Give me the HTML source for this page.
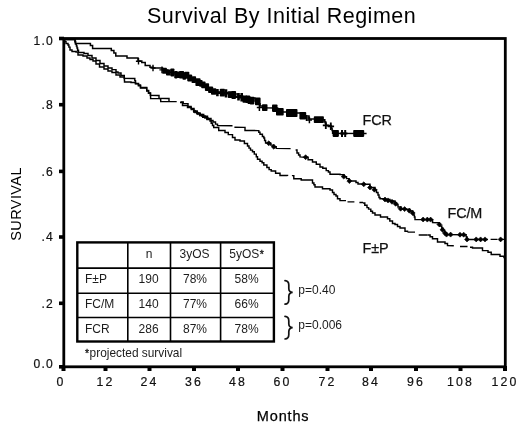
<!DOCTYPE html>
<html><head><meta charset="utf-8"><title>Survival By Initial Regimen</title>
<style>
html,body{margin:0;padding:0;background:#fff;}
body{width:520px;height:432px;overflow:hidden;}
svg{display:block;}
text{font-family:"Liberation Sans",sans-serif;fill:#111;}
.tk{font-size:12.3px;letter-spacing:2.2px;stroke:#111;stroke-width:0.2px;}
.tb{font-size:12px;fill:#1c1c1c;}
.lb{font-size:14.4px;letter-spacing:-0.2px;fill:#111;stroke:#111;stroke-width:0.25px;}
.pv{font-size:12px;fill:#1c1c1c;}
</style></head><body>
<svg width="520" height="432" viewBox="0 0 520 432" style="filter:grayscale(1) blur(0.3px)">
<rect width="520" height="432" fill="#fff"/>
<text x="147" y="22.5" style="font-size:21.5px;letter-spacing:0.5px;fill:#000">Survival By Initial Regimen</text>
<!-- frame -->
<rect x="63.8" y="38.5" width="441.5" height="328.3" fill="none" stroke="#000" stroke-width="2.8"/>
<rect x="61.5" y="366" width="4" height="5" fill="#000"/><rect x="103.5" y="366" width="4" height="5" fill="#000"/><rect x="147.5" y="366" width="4" height="5" fill="#000"/><rect x="192" y="366" width="4" height="5" fill="#000"/><rect x="236" y="366" width="4" height="5" fill="#000"/><rect x="280.5" y="366" width="4" height="5" fill="#000"/><rect x="325.5" y="366" width="4" height="5" fill="#000"/><rect x="369" y="366" width="4" height="5" fill="#000"/><rect x="414" y="366" width="4" height="5" fill="#000"/><rect x="458.5" y="366" width="4" height="5" fill="#000"/><rect x="503" y="366" width="4" height="5" fill="#000"/><rect x="59" y="36.7" width="5" height="3.6" fill="#000"/><rect x="59" y="102.9" width="5" height="3.6" fill="#000"/><rect x="59" y="169.6" width="5" height="3.6" fill="#000"/><rect x="59" y="235.2" width="5" height="3.6" fill="#000"/><rect x="59" y="301.5" width="5" height="3.6" fill="#000"/><rect x="59" y="365.0" width="5" height="3.6" fill="#000"/>
<text x="60.9" y="385.7" text-anchor="middle" class="tk">0</text><text x="105.5" y="385.7" text-anchor="middle" class="tk">12</text><text x="149.5" y="385.7" text-anchor="middle" class="tk">24</text><text x="194" y="385.7" text-anchor="middle" class="tk">36</text><text x="238" y="385.7" text-anchor="middle" class="tk">48</text><text x="282.5" y="385.7" text-anchor="middle" class="tk">60</text><text x="327.5" y="385.7" text-anchor="middle" class="tk">72</text><text x="371" y="385.7" text-anchor="middle" class="tk">84</text><text x="416" y="385.7" text-anchor="middle" class="tk">96</text><text x="460.5" y="385.7" text-anchor="middle" class="tk">108</text><text x="505" y="385.7" text-anchor="middle" class="tk">120</text><text x="54.1" y="45" text-anchor="end" class="tk" style="letter-spacing:1.3px;font-size:12.1px">1.0</text><text x="54.1" y="109" text-anchor="end" class="tk" style="letter-spacing:1.3px;font-size:12.1px">.8</text><text x="54.1" y="176" text-anchor="end" class="tk" style="letter-spacing:1.3px;font-size:12.1px">.6</text><text x="54.1" y="241.3" text-anchor="end" class="tk" style="letter-spacing:1.3px;font-size:12.1px">.4</text><text x="54.1" y="308.4" text-anchor="end" class="tk" style="letter-spacing:1.3px;font-size:12.1px">.2</text><text x="54.1" y="367.6" text-anchor="end" class="tk" style="letter-spacing:1.3px;font-size:12.1px">0.0</text>
<text transform="translate(21 203.9) rotate(-90)" text-anchor="middle" style="font-size:14.5px;letter-spacing:0.4px;fill:#000">SURVIVAL</text>
<text x="256.8" y="421.4" style="font-size:14.5px;letter-spacing:0.85px;fill:#000;stroke:#000;stroke-width:0.25px">Months</text>
<!-- curves -->
<g fill="none" stroke="#000" stroke-linejoin="miter">
<path d="M64.0 40.0 L64.8 40.0 L64.8 41.6 L66.0 41.6 L66.0 43.5 L68.0 43.5 L68.0 45.0 L68.9 45.0 L68.9 47.1 L70.0 47.1 L70.0 50.0 L72.0 50.0 L72.0 51.5 L76.0 51.5 L76.0 52.0 L78.0 52.0 L78.0 55.0 L83.0 55.0 L83.0 56.0 L87.0 56.0 L87.0 58.0 L90.0 58.0 L90.0 59.5 L93.0 59.5 L93.0 61.0 L96.0 61.0 L96.0 64.0 L99.5 64.0 L99.5 67.0 L104.0 67.0 L104.0 69.0 L108.0 69.0 L108.0 71.0 L112.0 71.0 L112.0 72.5 L116.0 72.5 L116.0 75.0 L120.0 75.0 L120.0 77.0 L124.3 77.0 L124.3 78.5 L124.4 78.5 L124.4 80.1 L124.5 80.1 L124.5 82.0 L131.0 82.0 L131.0 82.5 L135.5 82.5 L135.5 83.8 L138.4 83.8 L138.4 85.8 L140.5 85.8 L140.5 88.0 L146.7 88.0 L146.7 91.0 L148.5 91.0 L148.5 93.2 L150.4 93.2 L150.4 95.5 L150.6 95.5 L150.6 98.5 L159.0 98.6 L160.5 98.6 L160.5 99.0 L160.7 99.0 L160.7 101.6 L176.7 101.6 M180.0 102.5 L182.5 102.5 L182.5 105.4 L187.5 105.4 L187.5 107.5 L191.3 107.5 L191.3 109.4 L193.7 109.4 L193.7 112.0 L197.0 112.0 L197.0 113.7 L200.0 113.7 L200.0 115.5 L202.7 115.5 L202.7 117.3 L207.0 117.3 L207.0 119.5 L210.0 119.5 L210.0 121.0 L211.2 121.0 L211.2 123.2 L212.5 123.2 L212.5 125.4 L213.7 125.4 L213.7 127.5 L218.7 127.5 L218.7 130.4 L225.0 130.4 L225.0 132.5 L228.3 132.5 L228.3 134.6 L232.5 134.6 L232.5 137.5 L235.0 137.5 L235.0 139.9 L240.0 139.9 L240.0 141.0 L244.4 141.0 L244.4 143.5 L247.5 143.5 L247.5 146.0 L249.0 146.0 L249.0 148.1 L250.5 148.1 L250.5 150.1 L252.5 150.1 L252.5 151.8 L254.3 151.8 L254.3 154.1 L256.3 154.1 L256.3 156.8 L257.5 156.8 L257.5 159.2 L260.0 159.2 L260.0 161.3 L262.1 161.3 L262.1 162.8 L263.8 162.8 L263.8 164.9 L266.9 164.9 L266.9 167.4 L269.1 167.4 L269.1 169.6 L271.2 169.6 L271.2 171.0 L275.6 171.0 L275.6 173.3 L280.0 173.3 L280.0 175.5 L287.5 175.5 L287.5 176.0 M291.9 175.6 L293.8 175.6 L293.8 178.8 L301.2 178.8 L301.2 180.0 L312.5 180.0 L312.5 183.0 L313.9 183.0 L313.9 184.7 L315.0 184.7 L315.0 186.9 L322.5 186.9 L322.5 188.8 L330.0 188.8 L330.0 190.0 L332.5 190.0 L332.5 192.5 L334.0 192.5 L334.0 194.5 L336.0 194.5 L336.0 196.0 L337.5 196.0 L337.5 198.8 L340.0 198.8 L340.0 200.5 L346.0 200.6 M363.0 203.0 L364.8 203.0 L364.8 205.3 L367.0 205.3 L367.0 207.6 L368.6 207.6 L368.6 209.1 L370.8 209.1 L370.8 211.2 L372.5 211.2 L372.5 213.0 L375.0 213.0 L375.0 215.0 L380.5 215.0 L380.5 217.0 L387.5 217.0 L387.5 218.8 L389.8 218.8 L389.8 221.0 L392.5 221.0 L392.5 223.5 L395.0 223.5 L395.0 224.4 L397.5 224.4 L397.5 226.4 L400.0 226.4 L400.0 228.0 L405.0 228.0 L405.0 231.2 L407.5 231.2 L407.5 232.1 M427.5 235.0 L430.1 235.0 L430.1 236.8 L432.5 236.8 L432.5 238.8 L437.5 238.8 L437.5 241.9 L445.0 241.9 L445.0 243.4 L447.5 243.4 L447.5 245.6 L453.8 245.8 M470.0 247.2 L472.5 247.2 L472.5 248.0 L482.5 248.0 L482.5 250.6 L488.0 250.6 L488.0 252.2 L491.2 252.2 L491.2 254.4 L500.0 254.4 L500.0 256.2 L504.0 256.2 L504.0 258.2" stroke-width="1.45"/>
<path d="M64.0 39.5 L74.5 39.6 L75.0 39.6 L75.0 41.3 L75.5 41.3 L75.5 44.0 L76.4 44.0 L76.4 46.0 L77.0 46.0 L77.0 48.0 L77.6 48.0 L77.6 50.2 L78.5 50.2 L78.5 52.5 L84.0 52.5 L84.0 53.5 L88.0 53.5 L88.0 55.5 L92.0 55.5 L92.0 58.0 L96.0 58.0 L96.0 60.5 L100.0 60.5 L100.0 63.5 L104.0 63.5 L104.0 66.0 L108.0 66.0 L108.0 68.0 L112.0 68.0 L112.0 69.6 L116.0 69.6 L116.0 72.0 L118.0 72.0 L118.0 73.0 L121.0 73.0 L121.0 75.5 L124.3 75.5 L124.3 78.3 L134.0 78.5 L134.8 78.5 L134.8 80.6 L135.5 80.6 L135.5 83.4 L138.5 83.4 L138.5 84.9 L140.5 84.9 L140.5 87.4 L146.7 87.4 L146.7 90.4 L148.6 90.4 L148.6 93.0 L150.5 93.0 L150.5 95.2 L158.0 95.4 L159.0 95.4 L159.0 98.4 L168.0 98.5 L169.0 98.5 L169.0 101.5 M180.5 102.0 L183.2 102.0 L183.2 103.6 L188.0 103.6 L188.0 106.5 L191.1 106.5 L191.1 108.5 L194.0 108.5 L194.0 111.0 L197.2 111.0 L197.2 112.9 L200.0 112.9 L200.0 114.5 L203.7 114.5 L203.7 116.2 L207.5 116.2 L207.5 118.2 L209.0 118.4 L211.0 118.4 L211.0 120.5 L213.0 120.5 L213.0 122.0 L215.5 122.0 L215.5 124.1 L217.5 124.1 L217.5 125.6 L232.5 125.7 M234.4 127.2 L243.8 127.4 L245.0 127.4 L245.0 130.5 L257.5 130.6 L258.8 130.6 L258.8 132.2 L260.0 132.2 L260.0 134.2 L262.4 134.2 L262.4 136.4 L263.8 136.4 L263.8 138.0 L264.6 138.0 L264.6 140.4 L265.6 140.4 L265.6 143.0 L268.8 143.0 L268.8 143.3 L270.8 143.3 L270.8 145.1 L273.8 145.1 L273.8 146.8 L276.2 146.8 L276.2 148.4 L290.6 148.6 M295.6 150.0 L297.0 150.0 L297.0 152.9 L298.6 152.9 L298.6 155.0 L300.0 155.0 L300.0 156.9 L305.6 157.2 L308.1 157.2 L308.1 159.7 L312.5 159.7 L312.5 161.9 L316.3 161.9 L316.3 164.2 L320.0 164.2 L320.0 166.9 L322.8 166.9 L322.8 168.3 L326.2 168.3 L326.2 170.6 L328.4 170.6 L328.4 172.0 L330.0 172.0 L330.0 174.2 L340.0 174.2 L340.0 174.6 L344.0 174.6 L344.0 176.7 L346.5 176.7 L346.5 178.6 L349.0 178.6 L349.0 181.0 L356.0 181.0 L356.0 182.5 L358.0 182.5 L358.0 184.0 L364.0 184.0 L364.0 184.3 L370.0 184.3 L370.0 187.5 L375.0 187.5 L375.0 190.0 L376.5 190.0 L376.5 192.4 L378.0 192.4 L378.0 195.0 L379.0 195.0 L379.0 197.4 L380.0 197.4 L380.0 198.7 L385.0 198.7 L385.0 199.5 L390.0 199.5 L390.0 201.0 L395.0 201.0 L395.0 203.0 L396.5 203.0 L396.5 204.7 L398.0 204.7 L398.0 207.0 L401.0 207.0 L401.0 209.0 L407.0 209.2 L409.8 209.2 L409.8 210.9 L412.7 210.9 L412.7 213.0 L413.5 213.0 L413.5 214.9 L414.4 214.9 L414.4 217.0 L415.0 217.0 L415.0 219.5 L432.4 219.6 L432.6 219.6 L432.6 222.5 L438.7 222.7 L439.3 222.7 L439.3 224.3 L440.0 224.3 L440.0 226.0 L441.8 226.0 L441.8 228.3 L443.0 228.3 L443.0 230.5 L444.6 230.5 L444.6 233.0 L446.2 233.0 L446.2 234.6 L465.0 234.7 L466.1 234.7 L466.1 236.8 L466.9 236.8 L466.9 239.4 L488.0 239.4" stroke-width="1.45"/>
<path d="M490.6 239.4H497.5M499.5 239.4H504" stroke-width="1.4"/>
<path d="M347.5 201.8H354.4M359.4 202.5H363M407.5 232.2H415M418.7 235H427.5M460 246.5H467.5" stroke-width="1.3"/>
<path d="M64.0 39.5 L74.5 39.6 L75.0 39.6 L75.0 42.0 L75.5 42.0 L75.5 43.5 L88.0 43.6 L90.4 43.6 L90.4 45.6 L92.6 45.6 L92.6 48.5 L109.5 48.6 L111.3 48.6 L111.3 50.4 L113.9 50.4 L113.9 52.9 L115.8 52.9 L115.8 56.0 L127.0 56.0 L127.0 57.9 L138.0 57.9 L138.0 61.0 L141.8 61.0 L141.8 62.5 L145.2 62.5 L145.2 65.4 L150.0 65.4 L150.0 67.3 L153.0 67.3 L153.0 68.0 L162.5 68.0 L162.5 70.0 L167.8 70.0 L167.8 72.2 L175.0 72.2 L175.0 74.0 L187.5 74.0 L187.5 76.0 L190.8 76.0 L190.8 78.3 L194.6 78.3 L194.6 80.4 L200.0 80.4 L200.0 83.0 L203.8 83.0 L203.8 85.9 L207.2 85.9 L207.2 87.9 L212.0 87.9 L212.0 90.6 L217.5 90.6 L217.5 92.5 L230.0 92.5 L230.0 94.0 L238.1 94.0 L238.1 95.8 L242.5 95.8 L242.5 98.0 L255.0 98.0 L255.0 101.0 L258.0 101.2 L258.8 101.2 L258.8 103.7 L260.0 103.7 L260.0 106.0 L265.0 106.0 L265.0 107.7 L275.0 108.0 L277.6 108.0 L277.6 110.1 L280.0 110.1 L280.0 112.0 L292.0 112.0 L292.0 113.0 L303.0 113.0 L303.0 116.0 L309.0 116.0 L309.0 119.0 L317.0 119.0 L317.0 119.5 L324.0 119.7 L324.8 119.7 L324.8 122.1 L325.4 122.1 L325.4 123.5 L326.0 123.5 L326.0 125.6 L331.0 125.6 L331.0 126.3 L331.4 126.3 L331.4 128.2 L332.1 128.2 L332.1 130.4 L332.6 130.4 L332.6 133.3 L366.6 133.4" stroke-width="1.5"/>
</g>
<path d="M135.9 61.3H141.1M138.5 58.0V64.6" stroke="#000" stroke-width="1.4" fill="none"/>
<path d="M150.4 68.0H155.6M153.0 64.7V71.3" stroke="#000" stroke-width="1.4" fill="none"/>
<path d="M159.4 69.9H164.6M162.0 66.6V73.2" stroke="#000" stroke-width="1.4" fill="none"/>
<rect x="162.2" y="67.8" width="4.7" height="6.0" rx="0.8" fill="#000"/>
<rect x="166.0" y="69.5" width="4.7" height="6.0" rx="0.8" fill="#000"/>
<rect x="170.3" y="68.5" width="4.1" height="7.9" rx="0.8" fill="#000"/>
<rect x="174.2" y="71.1" width="3.4" height="7.3" rx="0.8" fill="#000"/>
<rect x="176.6" y="71.4" width="4.3" height="6.6" rx="0.8" fill="#000"/>
<rect x="179.1" y="70.9" width="5.0" height="7.7" rx="0.8" fill="#000"/>
<rect x="182.5" y="72.2" width="3.5" height="7.5" rx="0.8" fill="#000"/>
<rect x="184.4" y="71.8" width="4.9" height="6.9" rx="0.8" fill="#000"/>
<rect x="187.2" y="74.4" width="4.9" height="7.0" rx="0.8" fill="#000"/>
<rect x="191.5" y="76.2" width="4.6" height="6.9" rx="0.8" fill="#000"/>
<rect x="195.4" y="78.2" width="5.1" height="7.9" rx="0.8" fill="#000"/>
<rect x="199.1" y="79.9" width="3.5" height="6.8" rx="0.8" fill="#000"/>
<rect x="201.2" y="81.6" width="4.4" height="6.6" rx="0.8" fill="#000"/>
<rect x="204.9" y="83.3" width="4.2" height="7.7" rx="0.8" fill="#000"/>
<rect x="208.1" y="86.4" width="5.0" height="6.7" rx="0.8" fill="#000"/>
<rect x="211.0" y="88.2" width="5.3" height="6.6" rx="0.8" fill="#000"/>
<path d="M214.8 92.6H220.0M217.4 88.9V96.2" stroke="#000" stroke-width="2.6" fill="none"/>
<rect x="219.8" y="88.7" width="5.1" height="7.9" rx="0.8" fill="#000"/>
<path d="M222.9 93.3H229.1M226.0 89.2V97.5" stroke="#000" stroke-width="2.6" fill="none"/>
<rect x="227.8" y="91.3" width="5.3" height="6.7" rx="0.8" fill="#000"/>
<rect x="231.3" y="91.0" width="4.8" height="7.9" rx="0.8" fill="#000"/>
<path d="M235.6 96.8H241.4M238.5 93.0V100.6" stroke="#000" stroke-width="2.6" fill="none"/>
<path d="M238.4 97.2H245.0M241.7 93.0V101.5" stroke="#000" stroke-width="2.6" fill="none"/>
<rect x="242.5" y="95.6" width="4.7" height="7.2" rx="0.8" fill="#000"/>
<path d="M245.9 100.0H252.0M249.0 96.1V103.9" stroke="#000" stroke-width="2.6" fill="none"/>
<rect x="245.5" y="95.6" width="4.7" height="7.4" rx="0.8" fill="#000"/>
<rect x="249.6" y="96.8" width="4.8" height="7.6" rx="0.8" fill="#000"/>
<rect x="255.0" y="97.6" width="5.6" height="7.6" rx="0.8" fill="#000"/>
<path d="M256.8 107.5H262.0M259.4 104.0V111.0" stroke="#000" stroke-width="1.5" fill="none"/>
<rect x="262.0" y="104.2" width="5.5" height="6.9" rx="0.8" fill="#000"/>
<rect x="272.0" y="104.5" width="5.5" height="7.4" rx="0.8" fill="#000"/>
<rect x="276.0" y="108.1" width="7.7" height="7.4" rx="0.8" fill="#000"/>
<rect x="286.0" y="109.1" width="11.5" height="8.0" rx="0.8" fill="#000"/>
<rect x="299.4" y="112.0" width="6.8" height="7.4" rx="0.8" fill="#000"/>
<path d="M303.9 118.0H309.1M306.5 115.0V121.0" stroke="#000" stroke-width="1.5" fill="none"/>
<path d="M306.8 120.0H312.0M309.4 116.8V123.2" stroke="#000" stroke-width="1.5" fill="none"/>
<rect x="313.8" y="116.2" width="10.1" height="6.9" rx="0.8" fill="#000"/>
<path d="M322.8 125.3H328.8M325.8 121.5V129.1" stroke="#000" stroke-width="1.8" fill="none"/>
<path d="M327.6 126.3H334.1M330.8 122.5V130.1" stroke="#000" stroke-width="1.8" fill="none"/>
<rect x="332.6" y="130.0" width="6.3" height="6.9" rx="0.8" fill="#000"/>
<path d="M339.8 133.4H344.2M342.0 129.9V136.9" stroke="#000" stroke-width="2" fill="none"/>
<path d="M342.9 133.4H347.4M345.2 129.9V136.9" stroke="#000" stroke-width="2" fill="none"/>
<rect x="353.2" y="130.0" width="11.0" height="6.9" rx="0.8" fill="#000"/>
<path d="M193.3 111.6L195.0 109.9L196.7 111.6L195.0 113.3Z" fill="#000" stroke="#000" stroke-width="0.6" stroke-linejoin="round"/>
<path d="M195.8 113.0L197.5 111.3L199.2 113.0L197.5 114.7Z" fill="#000" stroke="#000" stroke-width="0.6" stroke-linejoin="round"/>
<path d="M198.3 114.5L200.0 112.8L201.7 114.5L200.0 116.2Z" fill="#000" stroke="#000" stroke-width="0.6" stroke-linejoin="round"/>
<path d="M200.8 115.7L202.5 114.0L204.2 115.7L202.5 117.4Z" fill="#000" stroke="#000" stroke-width="0.6" stroke-linejoin="round"/>
<path d="M203.3 117.0L205.0 115.3L206.7 117.0L205.0 118.7Z" fill="#000" stroke="#000" stroke-width="0.6" stroke-linejoin="round"/>
<path d="M205.3 118.0L207.0 116.3L208.7 118.0L207.0 119.7Z" fill="#000" stroke="#000" stroke-width="0.6" stroke-linejoin="round"/>
<path d="M266.2 143.3L268.8 140.8L271.2 143.3L268.8 145.8Z" fill="#000" stroke="#000" stroke-width="0.6" stroke-linejoin="round"/>
<path d="M271.2 146.8L273.8 144.2L276.2 146.8L273.8 149.2Z" fill="#000" stroke="#000" stroke-width="0.6" stroke-linejoin="round"/>
<path d="M303.1 157.2L305.6 154.7L308.1 157.2L305.6 159.7Z" fill="#000" stroke="#000" stroke-width="0.6" stroke-linejoin="round"/>
<path d="M341.2 176.6L343.8 174.1L346.2 176.6L343.8 179.1Z" fill="#000" stroke="#000" stroke-width="0.6" stroke-linejoin="round"/>
<path d="M346.9 181.1L349.4 178.6L351.9 181.1L349.4 183.6Z" fill="#000" stroke="#000" stroke-width="0.6" stroke-linejoin="round"/>
<path d="M361.2 184.3L363.8 181.8L366.2 184.3L363.8 186.8Z" fill="#000" stroke="#000" stroke-width="0.6" stroke-linejoin="round"/>
<path d="M367.5 187.5L370.0 185.0L372.5 187.5L370.0 190.0Z" fill="#000" stroke="#000" stroke-width="0.6" stroke-linejoin="round"/>
<path d="M371.9 189.7L374.4 187.2L376.9 189.7L374.4 192.2Z" fill="#000" stroke="#000" stroke-width="0.6" stroke-linejoin="round"/>
<path d="M382.5 199.5L385.0 197.0L387.5 199.5L385.0 202.0Z" fill="#000" stroke="#000" stroke-width="0.6" stroke-linejoin="round"/>
<path d="M385.5 200.4L388.0 197.9L390.5 200.4L388.0 202.9Z" fill="#000" stroke="#000" stroke-width="0.6" stroke-linejoin="round"/>
<path d="M389.5 201.8L392.0 199.3L394.5 201.8L392.0 204.3Z" fill="#000" stroke="#000" stroke-width="0.6" stroke-linejoin="round"/>
<path d="M393.1 203.8L395.6 201.3L398.1 203.8L395.6 206.3Z" fill="#000" stroke="#000" stroke-width="0.6" stroke-linejoin="round"/>
<path d="M398.1 208.7L400.6 206.2L403.1 208.7L400.6 211.2Z" fill="#000" stroke="#000" stroke-width="0.6" stroke-linejoin="round"/>
<path d="M402.1 209.1L404.6 206.6L407.1 209.1L404.6 211.6Z" fill="#000" stroke="#000" stroke-width="0.6" stroke-linejoin="round"/>
<path d="M406.8 210.7L409.3 208.2L411.8 210.7L409.3 213.2Z" fill="#000" stroke="#000" stroke-width="0.6" stroke-linejoin="round"/>
<path d="M410.2 213.0L412.7 210.5L415.2 213.0L412.7 215.5Z" fill="#000" stroke="#000" stroke-width="0.6" stroke-linejoin="round"/>
<path d="M420.6 219.5L423.1 217.0L425.6 219.5L423.1 222.0Z" fill="#000" stroke="#000" stroke-width="0.6" stroke-linejoin="round"/>
<path d="M424.8 219.6L427.3 217.1L429.8 219.6L427.3 222.1Z" fill="#000" stroke="#000" stroke-width="0.6" stroke-linejoin="round"/>
<path d="M428.1 219.6L430.6 217.1L433.1 219.6L430.6 222.1Z" fill="#000" stroke="#000" stroke-width="0.6" stroke-linejoin="round"/>
<path d="M436.9 224.5L439.4 222.0L441.9 224.5L439.4 227.0Z" fill="#000" stroke="#000" stroke-width="0.6" stroke-linejoin="round"/>
<path d="M440.0 229.8L442.5 227.2L445.0 229.8L442.5 232.2Z" fill="#000" stroke="#000" stroke-width="0.6" stroke-linejoin="round"/>
<path d="M442.5 233.1L445.0 230.6L447.5 233.1L445.0 235.6Z" fill="#000" stroke="#000" stroke-width="0.6" stroke-linejoin="round"/>
<path d="M444.0 234.6L446.5 232.1L449.0 234.6L446.5 237.1Z" fill="#000" stroke="#000" stroke-width="0.6" stroke-linejoin="round"/>
<path d="M448.1 234.6L450.6 232.1L453.1 234.6L450.6 237.1Z" fill="#000" stroke="#000" stroke-width="0.6" stroke-linejoin="round"/>
<path d="M457.5 234.7L460.0 232.2L462.5 234.7L460.0 237.2Z" fill="#000" stroke="#000" stroke-width="0.6" stroke-linejoin="round"/>
<path d="M461.2 234.7L463.7 232.2L466.2 234.7L463.7 237.2Z" fill="#000" stroke="#000" stroke-width="0.6" stroke-linejoin="round"/>
<path d="M464.5 239.4L467.0 236.9L469.5 239.4L467.0 241.9Z" fill="#000" stroke="#000" stroke-width="0.6" stroke-linejoin="round"/>
<path d="M473.7 239.4L476.2 236.9L478.7 239.4L476.2 241.9Z" fill="#000" stroke="#000" stroke-width="0.6" stroke-linejoin="round"/>
<path d="M478.1 239.4L480.6 236.9L483.1 239.4L480.6 241.9Z" fill="#000" stroke="#000" stroke-width="0.6" stroke-linejoin="round"/>
<path d="M482.5 239.4L485.0 236.9L487.5 239.4L485.0 241.9Z" fill="#000" stroke="#000" stroke-width="0.6" stroke-linejoin="round"/>
<path d="M498.1 239.4L500.6 236.9L503.1 239.4L500.6 241.9Z" fill="#000" stroke="#000" stroke-width="0.6" stroke-linejoin="round"/>
<!-- curve labels -->
<text x="362.6" y="125.4" class="lb">FCR</text>
<text x="447.6" y="217.8" class="lb">FC/M</text>
<text x="362.6" y="253" class="lb">F±P</text>
<!-- table -->
<g fill="none" stroke="#000">
<rect x="77.3" y="242.4" width="196.6" height="99.1" stroke-width="2.4"/>
<path d="M127.8 242.4V341.4M170.5 242.4V341.4M220.6 242.4V341.4" stroke-width="1.6"/>
<path d="M77.5 268.1H274M77.5 293.2H274M77.5 317.5H274" stroke-width="1.6"/>
</g>
<g class="tb">
<text x="149" y="258.4" text-anchor="middle" class="tb">n</text>
<text x="194.5" y="258.4" text-anchor="middle" class="tb">3yOS</text>
<text x="246.6" y="258.4" text-anchor="middle" class="tb">5yOS<tspan font-size="10.5" dy="-0.6" dx="0.4" stroke="#1c1c1c" stroke-width="0.35">*</tspan></text>
<text x="85" y="283.0" class="tb">F±P</text>
<text x="148.6" y="283.0" text-anchor="middle" class="tb">190</text>
<text x="195" y="283.0" text-anchor="middle" class="tb">78%</text>
<text x="246.6" y="283.0" text-anchor="middle" class="tb">58%</text>
<text x="85" y="307.9" class="tb">FC/M</text>
<text x="148.6" y="307.9" text-anchor="middle" class="tb">140</text>
<text x="195" y="307.9" text-anchor="middle" class="tb">77%</text>
<text x="246.6" y="307.9" text-anchor="middle" class="tb">66%</text>
<text x="85" y="332.8" class="tb">FCR</text>
<text x="148.6" y="332.8" text-anchor="middle" class="tb">286</text>
<text x="195" y="332.8" text-anchor="middle" class="tb">87%</text>
<text x="246.6" y="332.8" text-anchor="middle" class="tb">78%</text>
<text x="85" y="357.4" class="tb" style="font-size:11.9px"><tspan font-size="10.5" dy="-0.6" stroke="#1c1c1c" stroke-width="0.35">*</tspan><tspan dy="0.6" dx="0.5">projected survival</tspan></text>
</g>
<!-- braces -->
<g fill="none" stroke="#111" stroke-width="1.7" stroke-linecap="round">
<path d="M285 280.6 C288.2 280.8 288.8 282.6 288.8 285.1 L288.8 288.4 C288.8 290.9 290 292.1 292.6 292.4 C290 292.7 288.8 293.9 288.8 296.4 L288.8 299.7 C288.8 302.2 288.2 304.0 285 304.2"/>
<path d="M285 316.4 C288.2 316.6 288.8 318.4 288.8 320.9 L288.8 323.7 C288.8 326.2 290 327.4 292.6 327.7 C290 328.0 288.8 329.2 288.8 331.7 L288.8 334.5 C288.8 337.0 288.2 338.8 285 339.0"/>
</g>
<text x="298.3" y="294.2" class="pv">p=0.40</text>
<text x="298.3" y="329.3" class="pv">p=0.006</text>
</svg>
</body></html>
